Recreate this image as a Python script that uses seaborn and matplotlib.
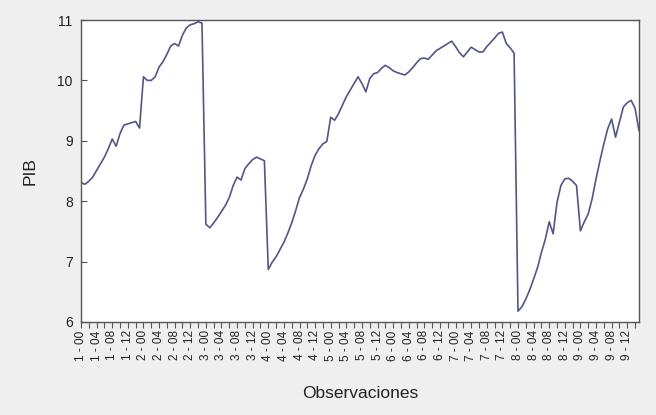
import numpy as np
import pandas as pd
import seaborn as sns
import matplotlib.pyplot as plt
from matplotlib.ticker import MultipleLocator

# ===================== data =====================
groups = list(range(1, 10))
months = list(range(16))
pib = [
    8.31, 8.28, 8.33, 8.40, 8.51, 8.62, 8.73, 8.87, 9.03, 8.91, 9.12, 9.26, 9.28, 9.30, 9.32, 9.21,
    10.06, 10.00, 10.00, 10.06, 10.22, 10.31, 10.43, 10.57, 10.61, 10.57, 10.75, 10.87, 10.92, 10.94, 10.97, 10.95,
    7.62, 7.56, 7.64, 7.73, 7.83, 7.93, 8.06, 8.26, 8.40, 8.35, 8.54, 8.62, 8.69, 8.73, 8.70, 8.67,
    6.87, 6.99, 7.08, 7.20, 7.32, 7.47, 7.64, 7.84, 8.06, 8.20, 8.37, 8.59, 8.76, 8.87, 8.95, 8.99,
    9.39, 9.34, 9.45, 9.59, 9.73, 9.84, 9.95, 10.06, 9.95, 9.81, 10.03, 10.11, 10.13, 10.20, 10.25, 10.21,
    10.16, 10.13, 10.11, 10.09, 10.14, 10.21, 10.29, 10.36, 10.37, 10.35, 10.42, 10.49, 10.53, 10.57, 10.61, 10.65,
    10.56, 10.46, 10.39, 10.47, 10.55, 10.51, 10.47, 10.47, 10.56, 10.63, 10.70, 10.78, 10.80, 10.61, 10.54, 10.45,
    6.18, 6.25, 6.38, 6.53, 6.71, 6.90, 7.15, 7.37, 7.66, 7.46, 7.98, 8.26, 8.37, 8.38, 8.33, 8.26,
    7.51, 7.66, 7.79, 8.04, 8.37, 8.67, 8.95, 9.20, 9.36, 9.06, 9.31, 9.56, 9.63, 9.67, 9.54, 9.17,
]
yticks = [6, 7, 8, 9, 10, 11]

labels = [f"{g} - {m:02d}" for g in groups for m in months]
df = pd.DataFrame({"obs": np.arange(len(pib)), "PIB": pib, "label": labels})

# ===================== style =====================
sns.set_style("white")
plt.rcParams["font.family"] = ["Liberation Sans", "DejaVu Sans"]

bg = "#efefef"
fig = plt.figure(figsize=(6.56, 4.15), dpi=100, facecolor=bg)
ax = fig.add_axes([0.1235, 0.2241, 0.8505, 0.7277])
ax.set_facecolor("white")

sns.lineplot(data=df, x="obs", y="PIB", ax=ax, color="#50558f", linewidth=1.2)

ax.set_xlim(0, len(pib) - 1)
ax.set_ylim(6, 11)
ax.set_yticks(yticks)
ax.set_yticklabels([str(t) for t in yticks], fontsize=10, color="#222222")

major = df["obs"][df["obs"] % 4 == 0]
ax.set_xticks(major)
ax.set_xticklabels(df["label"][df["obs"] % 4 == 0], rotation=90, fontsize=8.5, color="#222222")
ax.xaxis.set_minor_locator(MultipleLocator(2))

ax.tick_params(axis="x", which="both", direction="out", length=4, width=0.8,
               color="#555555", bottom=True, pad=2)
ax.tick_params(axis="y", direction="in", length=4, width=0.8, color="#555555",
               left=True, pad=6)

for s in ax.spines.values():
    s.set_color("#555555")
    s.set_linewidth(1.0)

ax.set_xlabel("Observaciones", fontsize=12.5, color="#222222", labelpad=18)
ax.set_ylabel("PIB", fontsize=12.5, color="#222222", labelpad=14)

fig.savefig("out.png", dpi=100, facecolor=bg)
